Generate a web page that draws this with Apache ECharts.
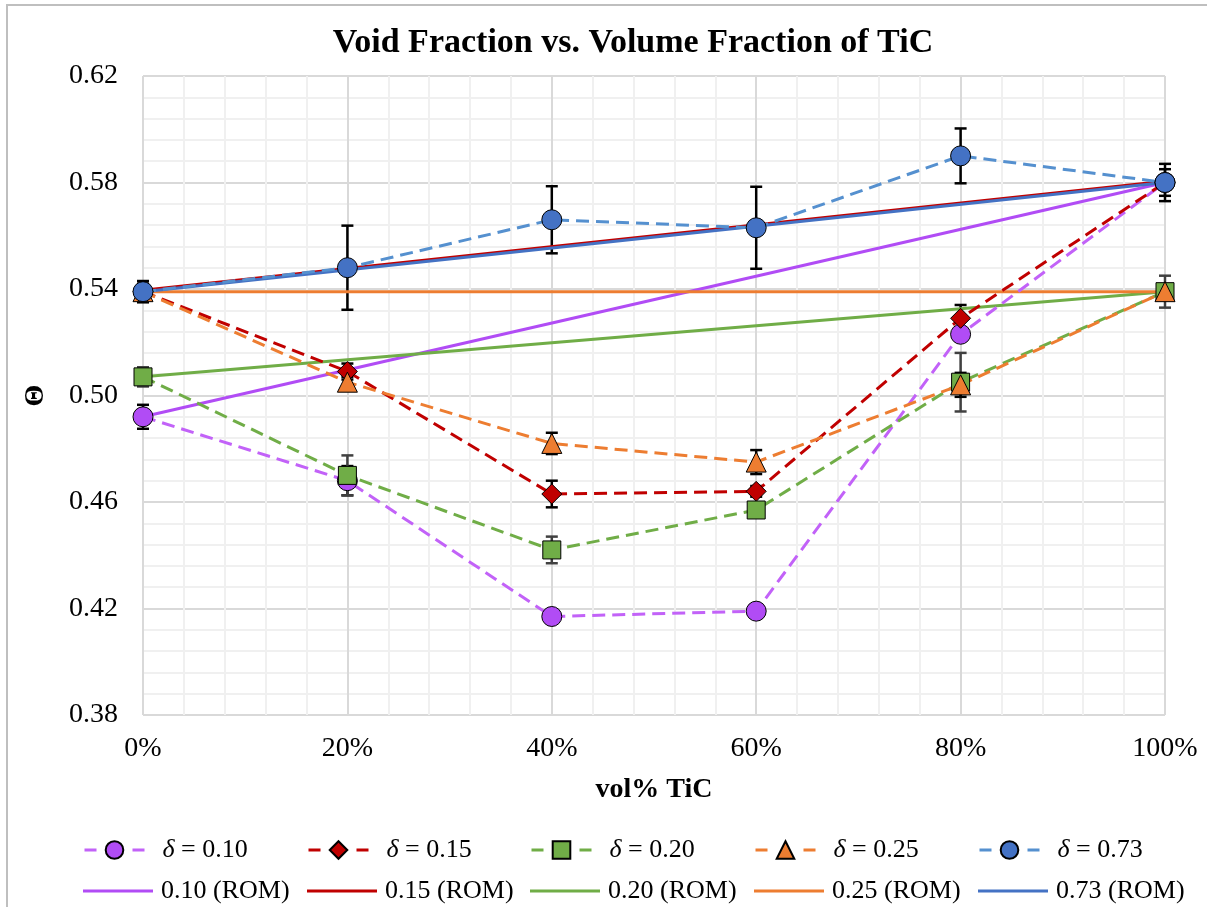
<!DOCTYPE html>
<html>
<head>
<meta charset="utf-8">
<script src="https://cdn.jsdelivr.net/npm/echarts@6/dist/echarts.min.js"></script>
<style>
  html, body { margin: 0; padding: 0; background: #ffffff; }
  #chart { width: 1207px; height: 907px; }
</style>
</head>
<body>
<div id="chart"></div>
<script>
// Volume fraction of TiC (%)
const volPercent = [0, 20, 40, 60, 80, 100];

// Measured void fraction for each delta
const delta010 = [0.492, 0.468, 0.417, 0.419, 0.523, 0.580];
const delta015 = [0.539, 0.509, 0.463, 0.464, 0.529, 0.580];
const delta020 = [0.507, 0.470, 0.442, 0.457, 0.505, 0.539];
const delta025 = [0.539, 0.505, 0.482, 0.475, 0.504, 0.539];
const delta073 = [0.539, 0.548, 0.566, 0.563, 0.590, 0.580];

// Symmetric error (+/-) for each measured point
const err010 = [0.0045, 0.0055, 0.002, 0.002, 0.002, 0.002];
const err015 = [0.003, 0.003, 0.005, 0.002, 0.005, 0.005];
const err020 = [0.0036, 0.0075, 0.005, 0.002, 0.011, 0.006];
const err025 = [0.002, 0.002, 0.004, 0.0045, 0.0045, 0.002];
const err073 = [0.004, 0.0158, 0.0126, 0.0154, 0.0103, 0.007];

// Rule-of-mixtures predictions (end points)
const romX = [0, 100];
const rom010 = [0.492, 0.580];
const rom015 = [0.5395, 0.5805];
const rom020 = [0.507, 0.539];
const rom025 = [0.539, 0.539];
const rom073 = [0.539, 0.580];

const FONT = 'Liberation Serif, Times New Roman, serif';

const measured = [
  { name: 'δ = 0.10', y: delta010, e: err010, symbol: 'circle', size: 20, fill: '#B14CF5', line: '#C262F8', bar: '#000000' },
  { name: 'δ = 0.15', y: delta015, e: err015, symbol: 'diamond', size: 20, fill: '#C00000', line: '#C00000', bar: '#000000' },
  { name: 'δ = 0.20', y: delta020, e: err020, symbol: 'rect', size: 18, fill: '#70AD47', line: '#70AD47', bar: '#404040' },
  { name: 'δ = 0.25', y: delta025, e: err025, symbol: 'triangle', size: 20, fill: '#ED7D31', line: '#ED7D31', bar: '#000000' },
  { name: 'δ = 0.73', y: delta073, e: err073, symbol: 'circle', size: 20, fill: '#4472C4', line: '#5590CF', bar: '#000000' }
];

const rom = [
  { name: '0.10 (ROM)', y: rom010, color: '#B14CF5' },
  { name: '0.15 (ROM)', y: rom015, color: '#C00000' },
  { name: '0.20 (ROM)', y: rom020, color: '#70AD47' },
  { name: '0.25 (ROM)', y: rom025, color: '#ED7D31' },
  { name: '0.73 (ROM)', y: rom073, color: '#4472C4' }
];

function zip(xs, ys) { return xs.map((x, i) => [x, ys[i]]); }

function errorBarRenderer(color) {
  return function (params, api) {
    const x = api.value(0), y = api.value(1), e = api.value(2);
    const hi = api.coord([x, y + e]);
    const lo = api.coord([x, y - e]);
    const cap = 6;
    const st = { stroke: color, lineWidth: 2.5 };
    return {
      type: 'group',
      children: [
        { type: 'line', shape: { x1: hi[0], y1: hi[1], x2: lo[0], y2: lo[1] }, style: st },
        { type: 'line', shape: { x1: hi[0] - cap, y1: hi[1], x2: hi[0] + cap, y2: hi[1] }, style: st },
        { type: 'line', shape: { x1: lo[0] - cap, y1: lo[1], x2: lo[0] + cap, y2: lo[1] }, style: st }
      ]
    };
  };
}

const series = [];

// error bars (bottom layer)
measured.forEach(m => {
  series.push({
    type: 'custom',
    name: m.name + ' err',
    z: 1,
    silent: true,
    renderItem: errorBarRenderer(m.bar),
    data: volPercent.map((x, i) => [x, m.y[i], m.e[i]])
  });
});

// rule-of-mixtures lines
rom.forEach(r => {
  series.push({
    type: 'line',
    name: r.name,
    z: 2,
    symbol: 'none',
    silent: true,
    lineStyle: { color: r.color, width: 3, type: 'solid' },
    itemStyle: { color: r.color },
    data: zip(romX, r.y)
  });
});

// measured data: dashed lines with markers
measured.forEach(m => {
  series.push({
    type: 'line',
    name: m.name,
    z: 3,
    symbol: m.symbol,
    symbolSize: m.size,
    silent: true,
    lineStyle: { color: m.line, width: 3, type: [13, 7] },
    itemStyle: { color: m.fill, borderColor: '#000000', borderWidth: 1 },
    data: zip(volPercent, m.y)
  });
});

// legend: one component per entry to keep the column grid
const colLeft = [83, 307, 530, 754, 978];
const legends = [];
measured.forEach((m, i) => {
  legends.push({
    data: [m.name],
    left: colLeft[i],
    top: 837,
    padding: 0,
    itemWidth: 60,
    itemHeight: 22,
    selectedMode: false,
    lineStyle: { width: 3, type: [12, 36] },
    formatter: name => '{i|δ} = ' + name.split('= ')[1],
    textStyle: {
      fontFamily: FONT, fontSize: 26, color: '#000000', padding: [0, 0, 0, 13],
      rich: { i: { fontFamily: FONT, fontSize: 26, fontStyle: 'italic', color: '#000000' } }
    }
  });
});
rom.forEach((r, i) => {
  legends.push({
    data: [r.name],
    left: colLeft[i],
    top: 878,
    padding: 0,
    icon: 'rect',
    itemWidth: 70,
    itemHeight: 3,
    selectedMode: false,
    textStyle: { fontFamily: FONT, fontSize: 26, color: '#000000', padding: [0, 0, 0, 3] }
  });
});

const chart = echarts.init(document.getElementById('chart'), null, { renderer: 'canvas' });
chart.setOption({
  animation: false,
  backgroundColor: '#ffffff',
  graphic: [
    {
      type: 'rect', silent: true, z: -10,
      shape: { x: 7, y: 5, width: 1300, height: 1000 },
      style: { fill: null, stroke: '#bfbfbf', lineWidth: 2 }
    },
    {
      type: 'text', silent: true,
      x: 633, y: 43,
      style: {
        text: 'Void Fraction vs. Volume Fraction of TiC',
        font: 'bold 34px ' + FONT,
        fill: '#000000',
        textAlign: 'center',
        textVerticalAlign: 'middle'
      }
    }
  ],
  grid: { left: 143, right: 42, top: 76, bottom: 192, containLabel: false },
  legend: legends,
  xAxis: {
    type: 'value',
    min: 0, max: 100, interval: 20,
    name: 'vol% TiC',
    nameLocation: 'middle',
    nameGap: 61,
    nameTextStyle: { fontFamily: FONT, fontSize: 28, fontWeight: 'bold', color: '#000000' },
    axisLine: { show: false },
    axisTick: { show: false },
    axisLabel: { fontFamily: FONT, fontSize: 28, color: '#000000', margin: 20, formatter: v => v + '%' },
    splitLine: { show: true, lineStyle: { color: '#d9d9d9', width: 2 } },
    minorTick: { show: false, splitNumber: 5 },
    minorSplitLine: { show: true, lineStyle: { color: '#f0f0f0', width: 2 } }
  },
  yAxis: {
    type: 'value',
    min: 0.38, max: 0.62, interval: 0.04,
    name: 'Θ',
    nameLocation: 'middle',
    nameRotate: 90,
    nameGap: 93,
    nameTextStyle: { fontFamily: FONT, fontSize: 28, fontWeight: 'bold', color: '#000000' },
    axisLine: { show: false },
    axisTick: { show: false },
    axisLabel: { fontFamily: FONT, fontSize: 28, color: '#000000', margin: 25, formatter: v => v.toFixed(2) },
    splitLine: { show: true, lineStyle: { color: '#d9d9d9', width: 2 } },
    minorTick: { show: false, splitNumber: 5 },
    minorSplitLine: { show: true, lineStyle: { color: '#f0f0f0', width: 2 } }
  },
  series: series
});
</script>
</body>
</html>
